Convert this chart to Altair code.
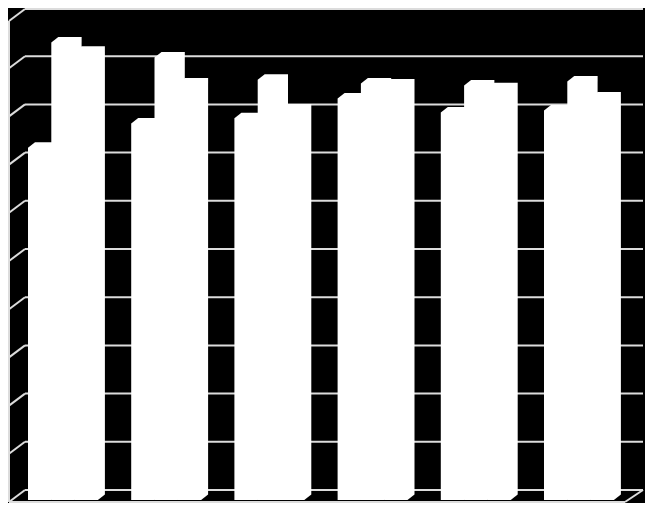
import altair as alt
import pandas as pd

# ---- data (gridlines every 10 units, 0..100) ----
groups = ["1", "2", "3", "4", "5", "6"]
series_names = ["A", "B", "C"]
series_a = [73.1, 78.1, 79.2, 83.3, 80.4, 80.8]
series_b = [94.9, 91.8, 87.2, 86.4, 86.0, 86.8]
series_c = [93.0, 86.4, 81.0, 86.2, 85.4, 83.5]
grid_ticks = [0, 10, 20, 30, 40, 50, 60, 70, 80, 90, 100]

# ---- layout (pixels of the chart area; fits the window without scrollbars) ----
W, H = 637, 495
PX_PER_UNIT = 4.82          # pixels per value unit
ZERO_Y = 492                # pixel row of value 0 on the bars' front plane
Y_MIN = -(H - ZERO_Y) / PX_PER_UNIT
Y_MAX = ZERO_Y / PX_PER_UNIT

GROUP_X0 = 20
GROUP_STEP = 103.2
BAR_W = 23.3
DEPTH_X = 7
DEPTH_Y = 5.5
WALL_OFF = 10               # back wall sits 10px above the bars' front plane
WALL_X0, WALL_X1 = 17, 635
FRONT_X = 1
FLOOR_FRONT_PX = 494
FLOOR_FRONT_X1 = 617


def val(py):
    return (ZERO_Y - py) / PX_PER_UNIT


dyv = DEPTH_Y / PX_PER_UNIT
wall = WALL_OFF / PX_PER_UNIT

# ---- bars as 3D silhouettes (hexagons) ----
rows = []
all_series = [series_a, series_b, series_c]
for g, gname in enumerate(groups):
    for s, sname in enumerate(series_names):
        v = all_series[s][g]
        x0 = GROUP_X0 + GROUP_STEP * g + BAR_W * s
        bid = f"{gname}-{sname}"
        rows += [
            {"bar": bid, "x": x0, "lo": 0, "hi": v},
            {"bar": bid, "x": x0 + DEPTH_X, "lo": 0, "hi": v + dyv},
            {"bar": bid, "x": x0 + BAR_W, "lo": 0, "hi": v + dyv},
            {"bar": bid, "x": x0 + BAR_W + DEPTH_X, "lo": dyv, "hi": v + dyv},
        ]
bars_df = pd.DataFrame(rows)

# ---- frame: back-wall gridlines, side-wall slants, floor ----
segs = []
top_cap = Y_MAX - 1 / PX_PER_UNIT
for t in grid_ticks:
    yb = min(t + wall, top_cap)
    segs.append({"x": WALL_X0, "x2": WALL_X1, "y": yb, "y2": yb})
    segs.append({"x": FRONT_X, "x2": WALL_X0, "y": yb - 12 / PX_PER_UNIT, "y2": yb})
top_front = min(grid_ticks[-1] + wall, top_cap) - 12 / PX_PER_UNIT
floor_front = val(FLOOR_FRONT_PX)
segs.append({"x": FRONT_X, "x2": FRONT_X, "y": top_front, "y2": floor_front})
segs.append({"x": FRONT_X, "x2": FLOOR_FRONT_X1, "y": floor_front, "y2": floor_front})
segs.append({"x": FLOOR_FRONT_X1, "x2": WALL_X1, "y": floor_front, "y2": grid_ticks[0] + wall})
segs_df = pd.DataFrame(segs)

xs = alt.Scale(domain=[0, W], nice=False, zero=False)
ys = alt.Scale(domain=[Y_MIN, Y_MAX], nice=False, zero=False)

frame = alt.Chart(segs_df).mark_rule(color="#dcdcdc", strokeWidth=2).encode(
    x=alt.X("x:Q", scale=xs, axis=None),
    x2="x2:Q",
    y=alt.Y("y:Q", scale=ys, axis=None),
    y2="y2:Q",
)

bars = alt.Chart(bars_df).mark_area(color="white", interpolate="linear", opacity=1).encode(
    x=alt.X("x:Q", scale=xs, axis=None),
    y=alt.Y("lo:Q", scale=ys, axis=None, stack=None),
    y2="hi:Q",
    detail="bar:N",
)

chart = alt.layer(frame, bars).properties(
    width=W,
    height=H,
    background="black",
    padding=0,
    autosize=alt.AutoSizeParams(type="none"),
).configure_view(stroke=None)

chart.save("out.html", embed_options={"renderer": "svg", "actions": False})
